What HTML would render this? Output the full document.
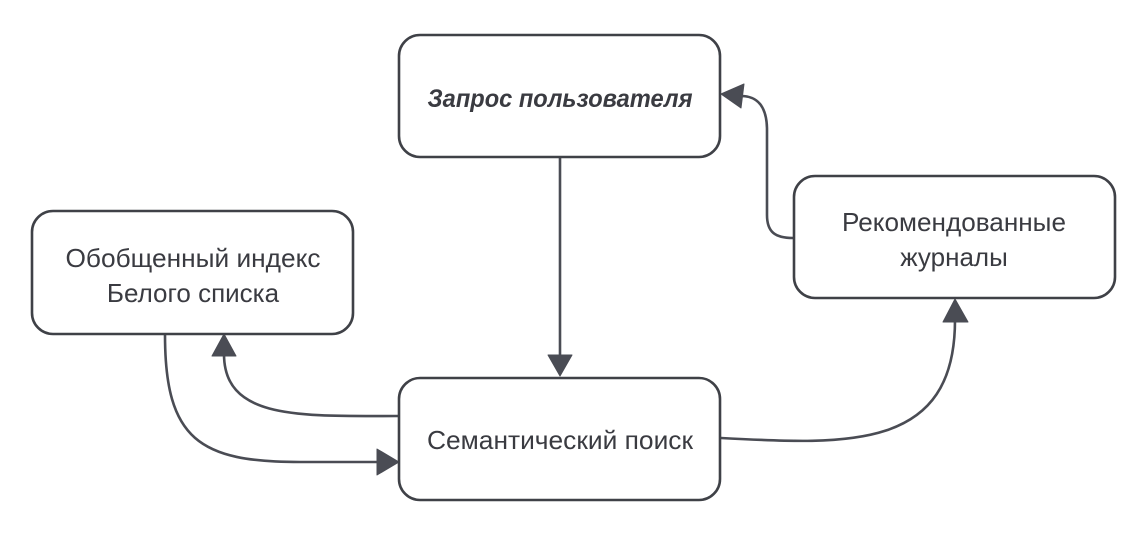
<!DOCTYPE html>
<html>
<head>
<meta charset="utf-8">
<style>
  html, body { margin: 0; padding: 0; background: #ffffff; }
  svg { display: block; }
  text { font-family: "Liberation Sans", "DejaVu Sans", sans-serif; fill: #3a3b41; }
</style>
</head>
<body>
<svg width="1145" height="540" viewBox="0 0 1145 540" xmlns="http://www.w3.org/2000/svg">
  <rect x="0" y="0" width="1145" height="540" fill="#ffffff"/>

  <!-- Connectors -->
  <g fill="none" stroke="#4a4c54" stroke-width="2.6" stroke-linecap="round">
    <!-- top box -> semantic search -->
    <path d="M560,158 L560,358"/>
    <!-- semantic search -> index (up) -->
    <path d="M399,416 C300,416 224,420 224,354"/>
    <!-- index -> semantic search -->
    <path d="M165,335 C165,440 200,462 300,462 L380,462"/>
    <!-- semantic search -> recommended -->
    <path d="M721,438 C850,445 955,450 955,320"/>
    <!-- recommended -> query -->
    <path d="M793,238 C775,238 767,232 767,215 L767,130 C767,106 757,96 741,96"/>
  </g>

  <!-- Arrowheads -->
  <g fill="#4a4c54" stroke="#4a4c54" stroke-width="1" stroke-linejoin="round">
    <polygon points="560,376 548,355 572,355"/>
    <polygon points="224,334 212,356 236,356"/>
    <polygon points="399,462 377,449 377,475"/>
    <polygon points="955,299 943,322 968,322"/>
    <polygon points="721,94 744,84 741,108"/>
  </g>

  <!-- Boxes -->
  <g fill="#ffffff" stroke="#3f4147" stroke-width="2.6">
    <rect x="399" y="35" width="321" height="122" rx="21" ry="21"/>
    <rect x="32" y="211" width="321" height="123" rx="21" ry="21"/>
    <rect x="794" y="176" width="321" height="122" rx="21" ry="21"/>
    <rect x="399" y="378" width="321" height="122" rx="21" ry="21"/>
  </g>

  <!-- Labels -->
  <text x="560" y="107" text-anchor="middle" font-size="25" font-weight="bold" font-style="italic" textLength="265" lengthAdjust="spacingAndGlyphs">Запрос пользователя</text>

  <text x="193" y="267" text-anchor="middle" font-size="26" textLength="255" lengthAdjust="spacingAndGlyphs">Обобщенный индекс</text>
  <text x="193" y="302" text-anchor="middle" font-size="26">Белого списка</text>

  <text x="954" y="231" text-anchor="middle" font-size="26" textLength="224" lengthAdjust="spacingAndGlyphs">Рекомендованные</text>
  <text x="954" y="266" text-anchor="middle" font-size="26">журналы</text>

  <text x="560" y="449" text-anchor="middle" font-size="26" textLength="266" lengthAdjust="spacingAndGlyphs">Семантический поиск</text>
</svg>
</body>
</html>
